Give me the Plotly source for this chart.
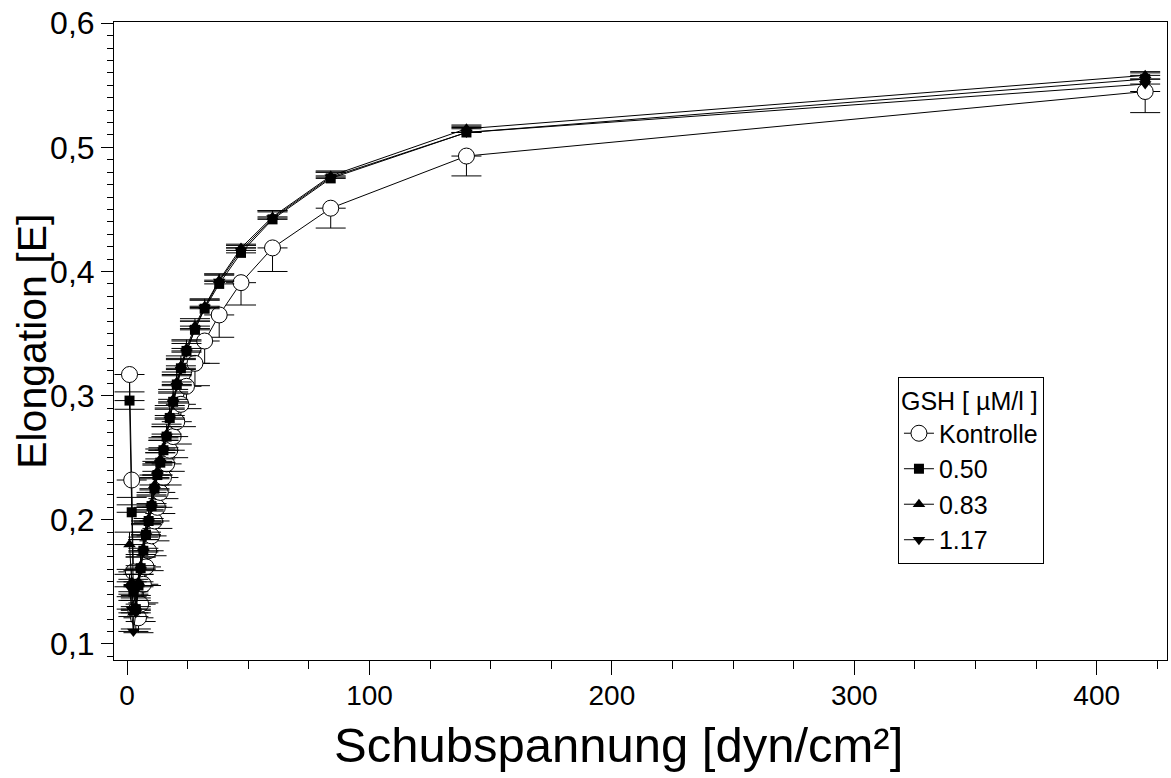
import plotly.graph_objects as go

# Shear stress values (dyn/cm²)
shear = [1.0, 1.9, 2.6, 3.6, 4.7, 5.6, 6.7, 7.8, 8.9, 10.1, 11.3, 12.5, 13.7, 15.0,
         16.3, 17.6, 19.0, 20.5, 22.2, 24.5, 28, 32, 38, 47, 60, 84, 140, 420]

kontrolle = [0.317, 0.232, 0.158, 0.127, 0.121, 0.132, 0.148, 0.162, 0.175, 0.187,
             0.199, 0.210, 0.222, 0.234, 0.245, 0.256, 0.267, 0.279, 0.293, 0.3075,
             0.326, 0.344, 0.365, 0.391, 0.419, 0.451, 0.493, 0.545]
kontrolle_err = [0.028, 0.020, 0.018, 0.015, 0.012, 0.014, 0.015, 0.015, 0.016, 0.016,
                 0.016, 0.017, 0.017, 0.017, 0.017, 0.017, 0.017, 0.018, 0.018, 0.018,
                 0.018, 0.018, 0.018, 0.018, 0.019, 0.016, 0.016, 0.017]

gsh050 = [0.296, 0.206, 0.142, 0.128, 0.147, 0.161, 0.175, 0.188, 0.199, 0.211,
          0.225, 0.236, 0.246, 0.256, 0.267, 0.282, 0.295, 0.309, 0.322, 0.336,
          0.353, 0.370, 0.390, 0.415, 0.442, 0.475, 0.512, 0.555]
gsh050_err = [0.007, 0.012, 0.010, 0.009, 0.009, 0.009, 0.009, 0.009, 0.009, 0.009,
              0.009, 0.008, 0.008, 0.008, 0.008, 0.008, 0.008, 0.008, 0.008, 0.008,
              0.007, 0.007, 0.007, 0.004, 0.007, 0.005, 0.005, 0.005]

gsh083 = [0.180, 0.150, 0.125, 0.130, 0.150, 0.163, 0.177, 0.190, 0.201, 0.213,
          0.228, 0.239, 0.249, 0.258, 0.269, 0.284, 0.297, 0.311, 0.324, 0.338,
          0.356, 0.372, 0.393, 0.419, 0.444, 0.477, 0.515, 0.558]
gsh083_err = [0.010, 0.010, 0.010, 0.009, 0.009, 0.009, 0.009, 0.009, 0.009, 0.009,
              0.008, 0.008, 0.008, 0.008, 0.008, 0.008, 0.008, 0.008, 0.008, 0.007,
              0.006, 0.006, 0.005, 0.003, 0.005, 0.004, 0.003, 0.003]

gsh117 = [0.146, 0.128, 0.110, 0.125, 0.146, 0.160, 0.174, 0.187, 0.198, 0.210,
          0.224, 0.236, 0.246, 0.256, 0.267, 0.281, 0.294, 0.308, 0.321, 0.335,
          0.354, 0.371, 0.392, 0.417, 0.443, 0.476, 0.512, 0.551]
gsh117_err = [0.010, 0.010, 0.012, 0.010, 0.010, 0.010, 0.010, 0.009, 0.009, 0.009,
              0.009, 0.009, 0.008, 0.008, 0.008, 0.008, 0.008, 0.008, 0.008, 0.007,
              0.006, 0.006, 0.006, 0.004, 0.005, 0.004, 0.004, 0.004]

x_title = "Schubspannung [dyn/cm²]"
y_title = "Elongation [E]"
legend_title = "GSH [ µM/l ]"

FONT = "Liberation Sans, Arial, sans-serif"

fig = go.Figure()

fig.add_trace(go.Scatter(
    x=shear, y=kontrolle, name="Kontrolle", mode="lines+markers",
    line=dict(color="black", width=1),
    marker=dict(symbol="circle", size=16, color="white", line=dict(color="black", width=1)),
    error_y=dict(type="data", symmetric=False, array=[0] * len(kontrolle),
                 arrayminus=kontrolle_err, color="black", thickness=1, width=15),
))

series = [
    ("0.50", gsh050, gsh050_err, "square", 10),
    ("0.83", gsh083, gsh083_err, "triangle-up", 11),
    ("1.17", gsh117, gsh117_err, "triangle-down", 11),
]
for name, ys, errs, sym, sz in series:
    fig.add_trace(go.Scatter(
        x=shear, y=ys, name=name, mode="lines+markers",
        line=dict(color="black", width=1),
        marker=dict(symbol=sym, size=sz, color="black", line=dict(color="black", width=0)),
        error_y=dict(type="data", symmetric=False, array=errs,
                     arrayminus=[0] * len(errs), color="black", thickness=1, width=15),
    ))

fig.update_layout(
    width=1171, height=778,
    margin=dict(l=114, r=4, t=22, b=118, autoexpand=False),
    paper_bgcolor="white", plot_bgcolor="white",
    separators=",.",
    font=dict(family=FONT, color="black", size=25),
    showlegend=True,
    legend=dict(
        title=dict(text=legend_title, font=dict(size=25, family=FONT)),
        font=dict(size=25, family=FONT),
        x=0.7445, y=0.4436, xanchor="left", yanchor="top",
        bordercolor="black", borderwidth=1, bgcolor="white",
        tracegroupgap=0,
    ),
    annotations=[
        dict(text=x_title, xref="paper", yref="paper", x=0.479, y=-0.133,
             xanchor="center", yanchor="middle", showarrow=False,
             font=dict(size=49, family=FONT, color="black")),
        dict(text=y_title, xref="paper", yref="paper", x=-0.078, y=0.5,
             xanchor="center", yanchor="middle", showarrow=False, textangle=-90,
             font=dict(size=41, family=FONT, color="black")),
    ],
)

fig.update_xaxes(
    range=[-5.4, 429], tick0=0, dtick=100, automargin=False,
    showline=True, linecolor="black", linewidth=1, mirror=True,
    ticks="outside", ticklen=14, tickcolor="black", tickwidth=1,
    minor=dict(dtick=25, ticks="outside", ticklen=8, tickcolor="black", tickwidth=1, showgrid=False),
    showgrid=False, zeroline=False, ticklabelstandoff=-4,
    tickfont=dict(size=28, family=FONT),
)

fig.update_yaxes(
    range=[0.087, 0.601], tick0=0.1, dtick=0.1, tickformat=".1f", automargin=False,
    showline=True, linecolor="black", linewidth=1, mirror=True,
    ticks="outside", ticklen=12, tickcolor="black", tickwidth=1,
    minor=dict(dtick=0.01, ticks="outside", ticklen=6, tickcolor="black", tickwidth=1, showgrid=False),
    showgrid=False, zeroline=False,
    tickfont=dict(size=32, family=FONT),
)

fig.write_html("out.html", config={"displayModeBar": False},
               post_script="document.body.style.margin='0';")
